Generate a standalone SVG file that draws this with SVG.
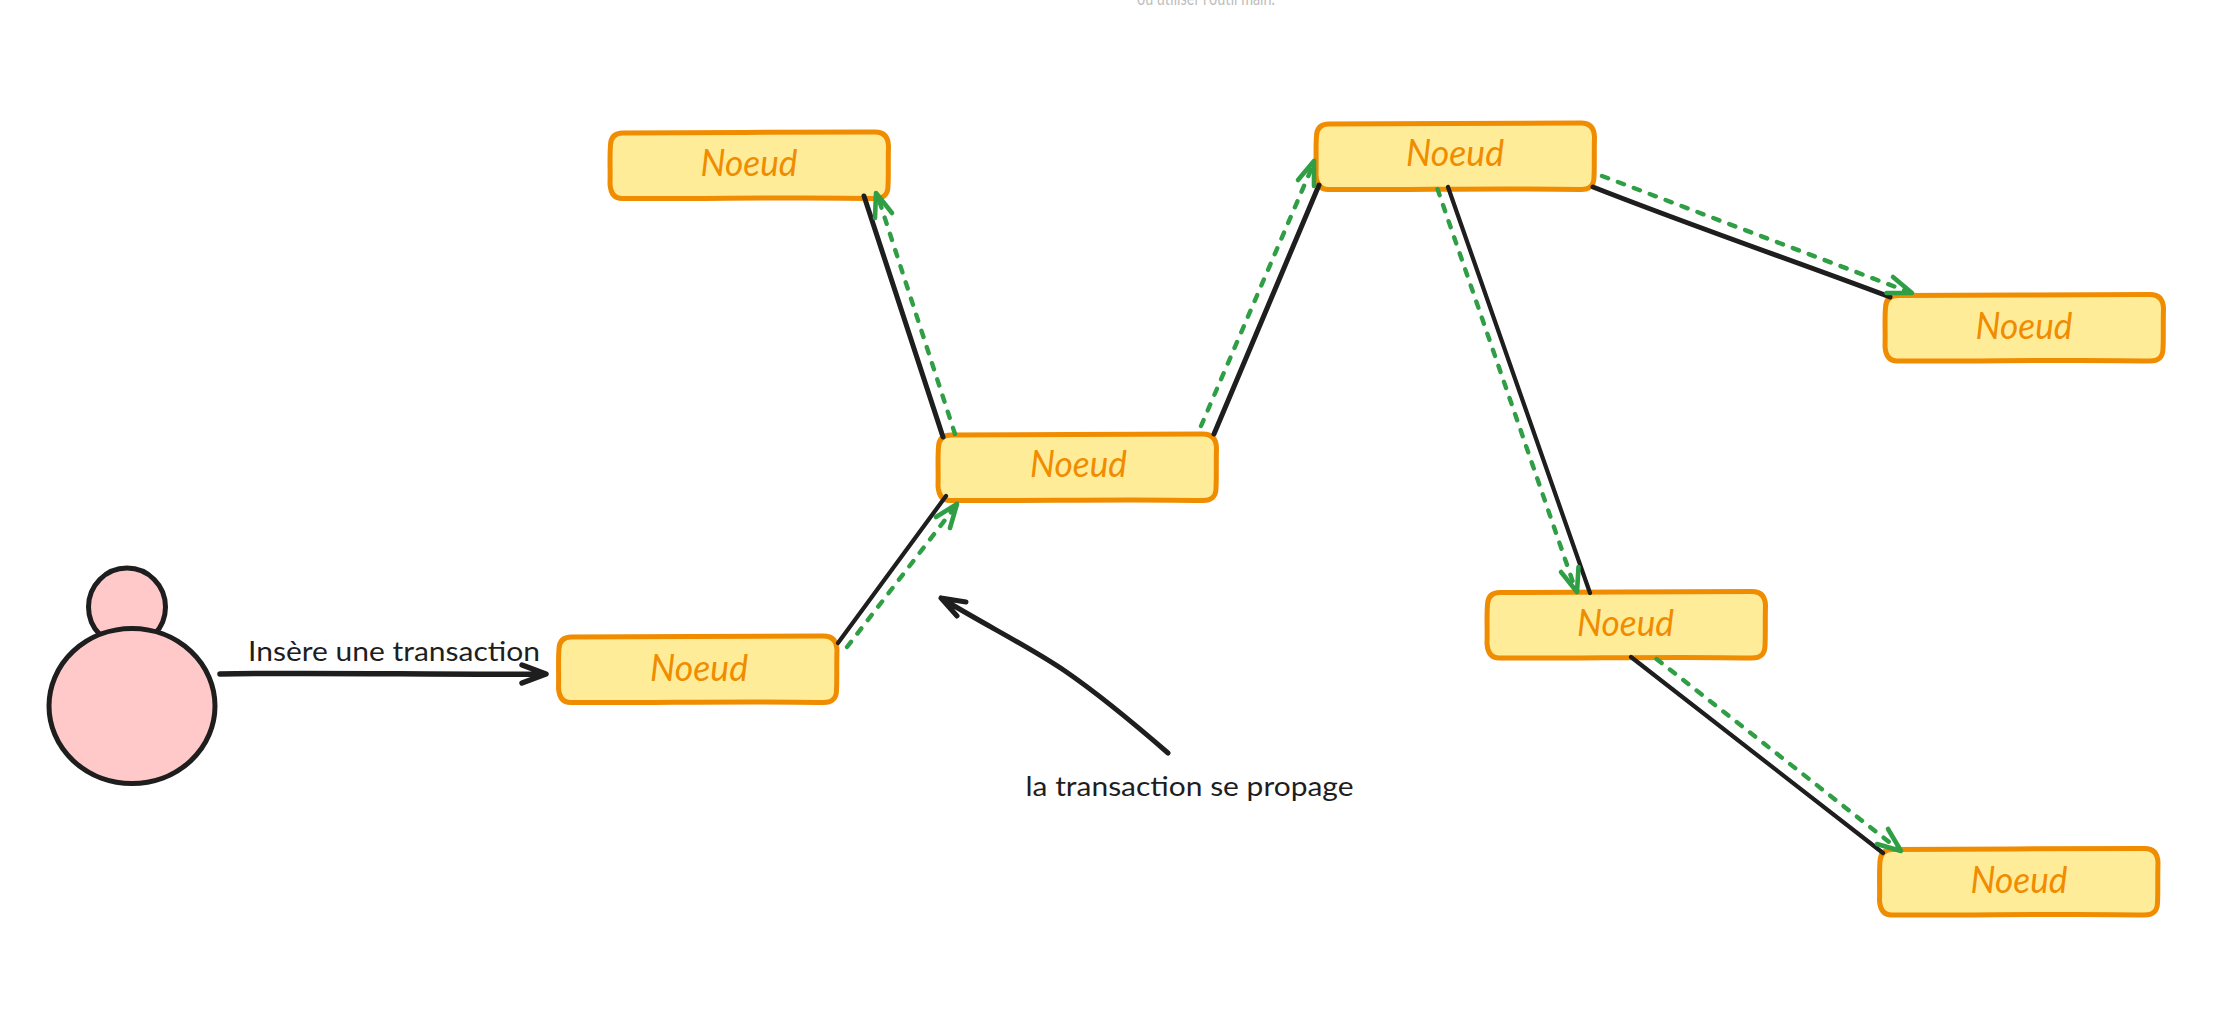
<svg xmlns="http://www.w3.org/2000/svg" width="2226" height="1024" viewBox="0 0 2226 1024">
<style>
.box{fill:#ffec99;stroke:#f08c00;stroke-width:5;stroke-linejoin:round}
.nt{font-family:"Lato","Noto Sans",sans-serif;font-style:italic;font-size:36px;fill:#f08c00}
.lb{font-family:"Lato","Noto Sans",sans-serif;font-size:27px;fill:#1e1e1e}
.note{font-family:"Lato","Noto Sans",sans-serif;font-size:20px;fill:#bdbdbd}
.body{fill:#ffc9c9;stroke:#1e1e1e;stroke-width:5}
.k{fill:none;stroke:#1e1e1e;stroke-width:5;stroke-linecap:round;stroke-linejoin:round}
.g{fill:none;stroke:#2f9e44;stroke-width:4.4;stroke-linecap:round;stroke-dasharray:6.5 10.5}
.h{fill:none;stroke:#2f9e44;stroke-width:4.6;stroke-linecap:round;stroke-linejoin:round}
</style>
<defs>
<path id="box" d="M13,1 C90,0 190,.8 265,0 Q278,0 278.5,14 C278,30 278.6,45 278,54 Q278,67 264,66.5 C190,65 90,67 13,66.5 Q1,67 0,52 C.5,40 -.5,25 .5,13 Q1,1 13,1 Z"/>
</defs>
<rect width="2226" height="1024" fill="#ffffff"/>
<text class="note" x="1137" y="5" textLength="138" lengthAdjust="spacingAndGlyphs">ou utiliser l'outil main.</text>

<g id="person">
<ellipse class="body" cx="127" cy="607" rx="38.5" ry="39"/>
<ellipse class="body" cx="132" cy="706" rx="83" ry="77.5"/>
</g>

<g id="node-top-left">
<use href="#box" class="box" transform="translate(610,132)"/>
<text class="nt" x="700.5" y="176" textLength="97" lengthAdjust="spacingAndGlyphs">Noeud</text>
</g>
<g id="node-entry">
<use href="#box" class="box" transform="translate(558.5,636)"/>
<text class="nt" x="650" y="681" textLength="98" lengthAdjust="spacingAndGlyphs">Noeud</text>
</g>
<g id="node-middle">
<use href="#box" class="box" transform="translate(938,434)"/>
<text class="nt" x="1030" y="477" textLength="97" lengthAdjust="spacingAndGlyphs">Noeud</text>
</g>
<g id="node-top">
<use href="#box" class="box" transform="translate(1316,123)"/>
<text class="nt" x="1406" y="166" textLength="98" lengthAdjust="spacingAndGlyphs">Noeud</text>
</g>
<g id="node-right">
<use href="#box" class="box" transform="translate(1885,294.5)"/>
<text class="nt" x="1975.5" y="339" textLength="97" lengthAdjust="spacingAndGlyphs">Noeud</text>
</g>
<g id="node-lower">
<use href="#box" class="box" transform="translate(1487,591.5)"/>
<text class="nt" x="1577" y="636" textLength="97" lengthAdjust="spacingAndGlyphs">Noeud</text>
</g>
<g id="node-bottom-right">
<use href="#box" class="box" transform="translate(1879.5,848.5)"/>
<text class="nt" x="1970.5" y="893" textLength="97" lengthAdjust="spacingAndGlyphs">Noeud</text>
</g>

<g id="connectors">
<path class="k" style="stroke-width:5.5" d="M220,674 C320,672 440,675 545,674 M522,665 L546,674 L522,683"/>
<path class="k" d="M864,196 L943,437"/>
<path class="k" style="stroke-width:4.2" d="M838,643 L946,496"/>
<path class="k" d="M1214,434 L1319,185"/>
<path class="k" style="stroke-width:4.2" d="M1448,187 L1590,593"/>
<path class="k" d="M1593,187 C1700,229 1800,263 1890,297"/>
<path class="k" style="stroke-width:4.2" d="M1631,657 L1883,853"/>
<path class="k" d="M1168,753 C1130,720 1100,695 1065,671 C1030,647 985,625 941,598 M966,602 L941,598 L957,616"/>

<path class="g" d="M955,434 L878,197"/>
<path class="h" d="M875,218 L876,193 L892,213"/>
<path class="g" d="M847,647 L955,507"/>
<path class="h" d="M936,517 L957,504 L950,528"/>
<path class="g" d="M1201,426 L1313,165"/>
<path class="h" d="M1298,180 L1314,161 L1314,186"/>
<path class="g" d="M1437.5,189 L1575,588"/>
<path class="h" d="M1561,572 L1577,592 L1578.5,567"/>
<path class="g" d="M1602,176 L1909,292"/>
<path class="h" d="M1893,277 L1912,293 L1886.5,293"/>
<path class="g" d="M1656.5,659 L1898,849"/>
<path class="h" d="M1888,829 L1901,851 L1877,844"/>
</g>

<text class="lb" x="248" y="661" textLength="292" lengthAdjust="spacingAndGlyphs">Insère une transaction</text>
<text class="lb" x="1025.5" y="796" textLength="328" lengthAdjust="spacingAndGlyphs">la transaction se propage</text>
</svg>
